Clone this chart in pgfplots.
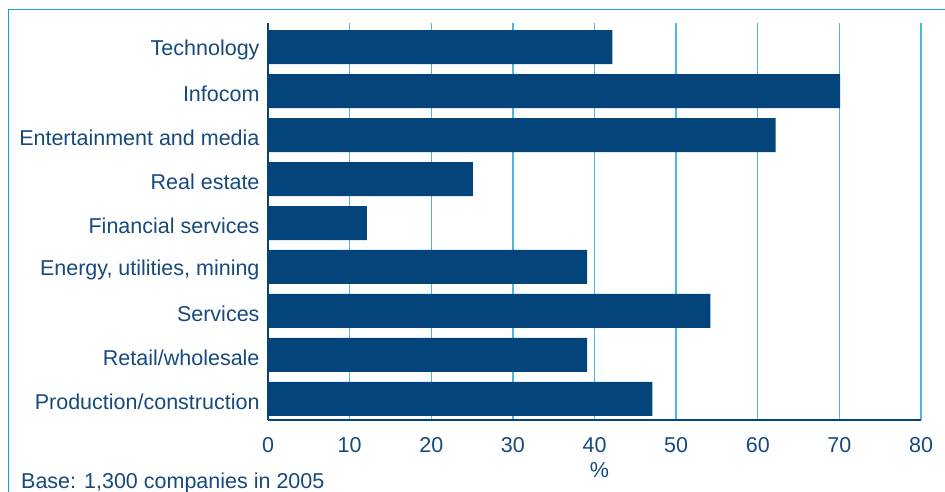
\documentclass[border=0pt]{standalone}
\usepackage{pgfplots}
\pgfplotsset{compat=1.18}
\usepackage{fontspec}
\setmainfont{Liberation Sans}
\definecolor{barblue}{HTML}{03457A}
\definecolor{txtblue}{HTML}{164A7C}
\definecolor{gridblue}{HTML}{4DB6E2}
\definecolor{frameblue}{HTML}{1A9ED6}
\begin{document}
\begin{tikzpicture}[x=1bp,y=1bp]
\useasboundingbox (0,0) rectangle (945,492);
\draw[frameblue,line width=1.6bp] (8.5,0) -- (8.5,482.5) -- (946,482.5);
\begin{axis}[
  at={(268bp,72bp)}, anchor=south west,
  scale only axis, width=653bp, height=397bp,
  xbar, bar width=34bp,
  xmin=0, xmax=80, ymin=-0.48, ymax=8.55,
  xtick={0,10,...,80},
  ytick={0,...,8},
  yticklabels={Production/construction,Retail/wholesale,Services,{Energy, utilities, mining},Financial services,Real estate,Entertainment and media,Infocom,Technology},
  xmajorgrids, major grid style={gridblue,line width=1.3bp},
  axis x line*=bottom, axis y line*=left,
  x axis line style={barblue,line width=2.2bp,-},
  y axis line style={barblue,line width=1.6bp,-},
  major tick length=0pt,
  tick label style={font=\fontsize{21.5bp}{25bp}\selectfont, text=txtblue},
  /pgf/number format/assume math mode=true,
  xticklabel style={anchor=center, yshift=-25bp},
  yticklabel style={xshift=-5bp, yshift=-3bp},
  xlabel={\%}, xlabel style={at={(axis description cs:0.5,0)}, anchor=center, xshift=5bp, yshift=-50bp, font=\fontsize{21.5bp}{25bp}\selectfont, text=txtblue},
]
\addplot[fill=barblue, draw=none] coordinates {
(47.1,0) (39.1,1) (54.2,2) (39.1,3) (12.1,4) (25.1,5) (62.2,6) (70.1,7) (42.2,8)};
\end{axis}
\node[anchor=base west, text=txtblue, font=\fontsize{21.5bp}{25bp}\selectfont, inner sep=0pt] at (21,3) {Base: 1,300 companies in 2005};
\end{tikzpicture}
\end{document}
